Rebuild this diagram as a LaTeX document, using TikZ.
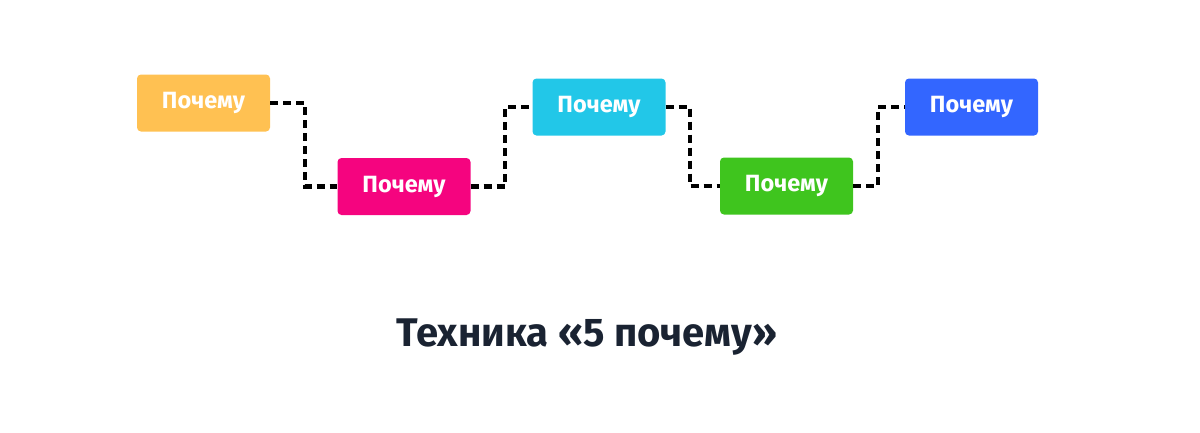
\documentclass[tikz,border=0pt]{standalone}
\usepackage{fontspec}
\setmainfont{Fira Sans}
\begin{document}
\begin{tikzpicture}[x=1pt,y=-1pt,
  box/.style={rounded corners=4pt,minimum width=133pt,minimum height=57pt,inner sep=0pt,text=white,font=\fontsize{23.5}{28}\selectfont\bfseries},
  conn/.style={line width=4.5pt,dash pattern=on 8pt off 5pt,draw=black}]
\useasboundingbox (0,0) rectangle (1200,432);
\definecolor{c1}{HTML}{FFC152}
\definecolor{c2}{HTML}{F5047F}
\definecolor{c3}{HTML}{22C7E8}
\definecolor{c4}{HTML}{3FC51E}
\definecolor{c5}{HTML}{3366FF}
\definecolor{ttl}{HTML}{1A2332}
\node[box,fill=c1] (b1) at (203.5,103) {Почему};
\node[box,fill=c2] (b2) at (404,186.5) {Почему};
\node[box,fill=c3] (b3) at (599,107) {Почему};
\node[box,fill=c4] (b4) at (786.5,186) {Почему};
\node[box,fill=c5] (b5) at (971.5,107) {Почему};
\draw[conn] (b1.east) -- (305,103) -- (305,186.5) -- (b2.west);
\draw[conn] (b2.east) -- (505,186.5) -- (505,107) -- (b3.west);
\draw[conn] (b3.east) -- (690,107) -- (690,186) -- (b4.west);
\draw[conn] (b4.east) -- (878,186) -- (878,107) -- (b5.west);
\node[text=ttl,font=\fontsize{40}{46}\selectfont\bfseries] (t) at (587,337) {Техника «5 почему»};
\end{tikzpicture}
\end{document}
